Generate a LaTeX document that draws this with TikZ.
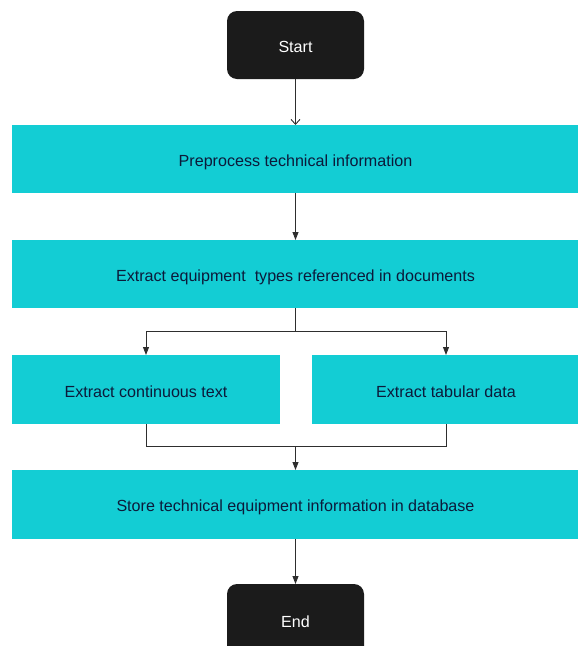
\documentclass[tikz,border=0pt]{standalone}
\usepackage{fontspec}
\setmainfont{Liberation Sans}
\usetikzlibrary{arrows.meta}
\definecolor{boxcyan}{HTML}{13CDD4}
\definecolor{termfill}{HTML}{1B1B1B}
\definecolor{boxtext}{HTML}{0C1A3A}
\definecolor{linegray}{HTML}{2E2E2E}
\begin{document}
\begin{tikzpicture}[x=1pt,y=-1pt,
  font=\fontsize{16.1}{19}\selectfont,
  terminal/.style={fill=termfill,draw=none,rounded corners=10pt,text=white},
  procbox/.style={fill=boxcyan,draw=none,text=boxtext},
  flow/.style={draw=linegray,line width=0.9pt},
  tri/.style={-{Triangle[length=8pt,width=6pt]}},
  barb/.style={-{Straight Barb[length=5pt,width=9pt]}}]
\useasboundingbox (0,0) rectangle (578,646);
% terminals
\path[terminal] (227,11) rectangle (364,79);
\node[text=white] (start) at (295.5,47) {Start};
\path[terminal] (227,584) rectangle (364,660);
\node[text=white] (end) at (295.5,621.5) {End};
% process boxes
\path[procbox] (12,125) rectangle (578,193);
\node[text=boxtext] (pre) at (295.5,162.5) {Preprocess technical information};
\path[procbox] (12,240) rectangle (578,308);
\node[text=boxtext] (ext) at (295.5,277.5) {Extract equipment\ \ types referenced in documents};
\path[procbox] (12,355) rectangle (280,424);
\node[text=boxtext] (cont) at (146,391.5) {Extract continuous text};
\path[procbox] (312,355) rectangle (578,424);
\node[text=boxtext] (tab) at (446,391.5) {Extract tabular data};
\path[procbox] (12,470) rectangle (578,539);
\node[text=boxtext] (store) at (295.5,507) {Store technical equipment information in database};
% anchor points on the box edges
\coordinate (startB) at (295.5,79);
\coordinate (preT) at (295.5,125);
\coordinate (preB) at (295.5,193);
\coordinate (extT) at (295.5,240);
\coordinate (extB) at (295.5,308);
\coordinate (split) at (295.5,331.5);
\coordinate (contT) at (146,355);
\coordinate (tabT) at (446,355);
\coordinate (contB) at (146,424);
\coordinate (tabB) at (446,424);
\coordinate (merge) at (295.5,446);
\coordinate (storeT) at (295.5,470);
\coordinate (storeB) at (295.5,539);
\coordinate (endT) at (295.5,584);
% connectors
\draw[flow,barb] (startB) -- (preT);
\draw[flow,tri] (preB) -- (extT);
\draw[flow] (extB) -- (split);
\draw[flow,tri] (split) -| (contT);
\draw[flow,tri] (split) -| (tabT);
\draw[flow] (contB) |- (tabB |- merge) -- (tabB);
\draw[flow,tri] (merge) -- (storeT);
\draw[flow,tri] (storeB) -- (endT);
\end{tikzpicture}
\end{document}
